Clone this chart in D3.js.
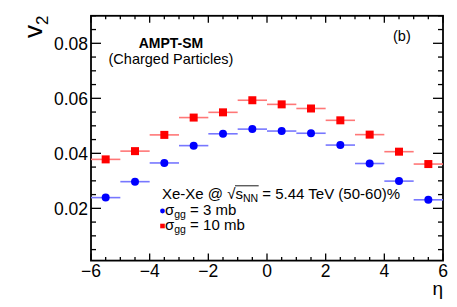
<!DOCTYPE html>
<html><head><meta charset="utf-8">
<script src="https://cdn.jsdelivr.net/npm/d3@7"></script>
<style>
html,body{margin:0;padding:0;background:#fff;}
svg{display:block;font-family:"Liberation Sans",Arial,Helvetica,sans-serif;}
</style></head>
<body>
<svg id="c" width="457" height="307"></svg>
<script>
const eta = [-5.5,-4.5,-3.5,-2.5,-1.5,-0.5,0.5,1.5,2.5,3.5,4.5,5.5];
const v2_3mb  = [0.0239,0.0297,0.0365,0.0428,0.0471,0.0488,0.0481,0.0473,0.0430,0.0363,0.0299,0.0231];
const v2_10mb = [0.0378,0.0408,0.0467,0.0530,0.0549,0.0593,0.0578,0.0563,0.0520,0.0468,0.0406,0.0361];
const binHalfWidth = 0.5;
const xTicks = [-6,-4,-2,0,2,4,6];
const yTicks = [0.02,0.04,0.06,0.08];

const svg = d3.select("#c");
const L=91, R=443, T=15.8, B=260.6;
const x = d3.scaleLinear().domain([-6,6]).range([L,R]);
const y = d3.scaleLinear().domain([0.001,0.09]).range([B,T]);

// minor ticks
const xMinor = d3.range(-6,6.001,0.5);
const yMinor = d3.range(0.005,0.0901,0.005).filter(v=>v>0.001);
const g = svg.append("g").attr("stroke","#000").attr("stroke-width",1.3);
function isMajorX(v){return xTicks.some(t=>Math.abs(t-v)<1e-6);}
function isMajorY(v){return yTicks.some(t=>Math.abs(t-v)<1e-7);}
xMinor.forEach(v=>{
  const len = isMajorX(v)?7:3.5;
  g.append("line").attr("x1",x(v)).attr("x2",x(v)).attr("y1",B).attr("y2",B-len);
  g.append("line").attr("x1",x(v)).attr("x2",x(v)).attr("y1",T).attr("y2",T+len);
});
yMinor.forEach(v=>{
  const len = isMajorY(v)?10:5;
  g.append("line").attr("y1",y(v)).attr("y2",y(v)).attr("x1",L).attr("x2",L+len);
  g.append("line").attr("y1",y(v)).attr("y2",y(v)).attr("x1",R).attr("x2",R-len);
});
svg.append("rect").attr("x",L).attr("y",T).attr("width",R-L).attr("height",B-T)
  .attr("fill","none").attr("stroke","#000").attr("stroke-width",1.8);

// tick labels
svg.append("g").selectAll("text").data(xTicks).join("text")
  .attr("x",d=>x(d)).attr("y",277).attr("text-anchor","middle")
  .attr("font-size",17.5).text(d=>d3.format("")(d).replace("-","\u2212"));
svg.append("g").selectAll("text").data(yTicks).join("text")
  .attr("x",88).attr("y",d=>y(d)+6.3).attr("text-anchor","end")
  .attr("font-size",17.5).text(d=>d3.format(".2f")(d));

// axis titles
svg.append("text").attr("x",443).attr("y",295).attr("text-anchor","end")
  .attr("font-size",19).text("\u03b7");
const yl = svg.append("text").attr("transform","translate(42,38) rotate(-90)")
  .attr("font-size",26);
yl.append("tspan").text("v");
yl.append("tspan").attr("font-size",17).attr("dy",6).text("2");

// data: error bars + markers
function series(vals, color, barColor, shape){
  const gg = svg.append("g");
  gg.selectAll("line").data(eta).join("line")
    .attr("x1",(d)=>x(d-binHalfWidth)).attr("x2",(d)=>x(d+binHalfWidth))
    .attr("y1",(d,i)=>y(vals[i])).attr("y2",(d,i)=>y(vals[i]))
    .attr("stroke",barColor).attr("stroke-width",1.6);
  if(shape==="circle"){
    gg.selectAll("circle").data(eta).join("circle")
      .attr("cx",d=>x(d)).attr("cy",(d,i)=>y(vals[i])).attr("r",4).attr("fill",color);
  } else {
    gg.selectAll("rect").data(eta).join("rect")
      .attr("x",d=>x(d)-4).attr("y",(d,i)=>y(vals[i])-4).attr("width",8).attr("height",8).attr("fill",color);
  }
}
series(v2_3mb,"#0000ff","#7777ff","circle");
series(v2_10mb,"#ff0000","#ff7777","square");

// labels
svg.append("text").attr("x",171).attr("y",47.5).attr("text-anchor","middle")
  .attr("font-size",14).attr("font-weight","bold").text("AMPT-SM");
svg.append("text").attr("x",171).attr("y",64).attr("text-anchor","middle")
  .attr("font-size",14.5).text("(Charged Particles)");
svg.append("text").attr("x",393).attr("y",41).attr("font-size",14.5).text("(b)");

// legend
const lt = svg.append("text").attr("x",162).attr("y",199).attr("font-size",15);
lt.append("tspan").text("Xe-Xe @ ");
lt.append("tspan").text("\u221a");
lt.append("tspan").text("s");
lt.append("tspan").attr("font-size",10.5).attr("dy",3).text("NN");
lt.append("tspan").attr("dy",-3).text(" = 5.44 TeV (50-60)%");
{
  const n = lt.node();
  const full = n.textContent;
  const iS = full.indexOf("\u221a");
  const iN = full.indexOf("NN")+1;
  const e1 = n.getExtentOfChar(iS), e2 = n.getExtentOfChar(iN);
  svg.append("line").attr("x1",e1.x+e1.width-0.5).attr("x2",e2.x+e2.width+0.5)
    .attr("y1",e1.y+0.8).attr("y2",e1.y+0.8).attr("stroke","#000").attr("stroke-width",0.9);
}
const legItems = [{label:"3 mb",color:"#0000ff",shape:"circle",yy:214.5},
                  {label:"10 mb",color:"#ff0000",shape:"square",yy:229.5}];
legItems.forEach(it=>{
  if(it.shape==="circle") svg.append("circle").attr("cx",162.5).attr("cy",it.yy-3.5).attr("r",2.4).attr("fill",it.color);
  else svg.append("rect").attr("x",160.2).attr("y",it.yy-5.8).attr("width",4.6).attr("height",4.6).attr("fill",it.color);
  const t = svg.append("text").attr("x",165).attr("y",it.yy).attr("font-size",15);
  t.append("tspan").text("\u03c3");
  t.append("tspan").attr("font-size",10.5).attr("dy",3).text("gg");
  t.append("tspan").attr("dy",-3).text(" = "+it.label);
});
</script>
</body></html>
